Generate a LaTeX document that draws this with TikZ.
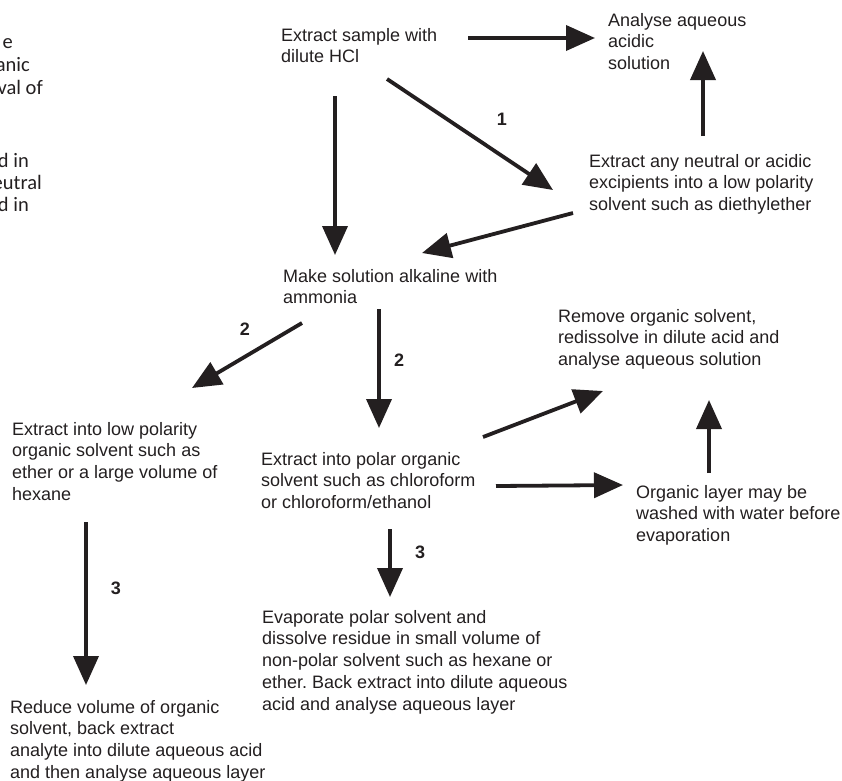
\documentclass[tikz,border=0pt]{standalone}
\usepackage{fontspec}
\setmainfont{Liberation Sans}
\newfontfamily\calfont{Carlito}
\usetikzlibrary{arrows.meta}
\frenchspacing
\definecolor{tinta}{RGB}{35,31,32}
\tikzset{
  lepes/.style={anchor=north west,inner sep=0pt,align=left,text=tinta,
                font=\fontsize{18}{21.7}\selectfont},
  csonk/.style={anchor=base east,inner sep=0pt,text=tinta,
                font=\calfont\fontsize{20.5}{24}\selectfont},
  fonyil/.style={draw=tinta,line width=3.8pt,-{Triangle[length=29pt,width=25pt]}},
  szam/.style={inner sep=0pt,text=tinta,font=\fontsize{18}{20}\selectfont\bfseries},
}

\begin{document}
\begin{tikzpicture}[x=1pt,y=-1pt]
  \useasboundingbox (0,0) rectangle (842,780);
  \clip (0,0) rectangle (842,780);

  % tail of the neighbouring paragraph, cut by the left edge
  \node[csonk] (k1) at (13,48) {e};
  \node[csonk] (k2) at (30,71) {anic};
  \node[csonk] (k3) at (43,94) {val of};
  \node[csonk] (k4) at (29,167) {d in};
  \node[csonk] (k5) at (42,189) {eutral};
  \node[csonk] (k6) at (29,211) {d in};

  % steps
  \node[lepes] (hcl) at (281,28) {Extract sample with\\dilute HCl};
  \node[lepes] (aqua) at (608,13) {Analyse aqueous\\acidic\\solution};
  \node[lepes] (excip) at (589,154) {Extract any neutral or acidic\\excipients into a low polarity\\solvent such as diethylether};
  \node[lepes] (alkali) at (283,269) {Make solution alkaline with\\ammonia};
  \node[lepes] (remove) at (558,309) {Remove organic solvent,\\redissolve in dilute acid and\\analyse aqueous solution};
  \node[lepes] (lowpol) at (12,422) {Extract into low polarity\\organic solvent such as\\ether or a large volume of\\hexane};
  \node[lepes] (polar) at (261,452) {Extract into polar organic\\solvent such as chloroform\\or chloroform/ethanol};
  \node[lepes] (washed) at (636,485) {Organic layer may be\\washed with water before\\evaporation};
  \node[lepes] (evap) at (262,610) {Evaporate polar solvent and\\dissolve residue in small volume of\\non-polar solvent such as hexane or\\ether. Back extract into dilute aqueous\\acid and analyse aqueous layer};
  \node[lepes] (reduce) at (10,700) {Reduce volume of organic\\solvent, back extract\\analyte into dilute aqueous acid\\and then analyse aqueous layer};

  % arrows
  \draw[fonyil] ([shift={(187,10)}]hcl.north west) -- ([shift={(-13,25)}]aqua.north west);
  \draw[fonyil] ([shift={(114,-18)}]excip.north west) -- ([shift={(95,38)}]aqua.north west);
  \draw[fonyil] ([shift={(106,51)}]hcl.north west) --
    node[szam,pos=0.59,shift={(17,-25)}] (n1) {1} ([shift={(-36,36)}]excip.north west);
  \draw[fonyil] ([shift={(54,68)}]hcl.north west) -- ([shift={(52,-14)}]alkali.north west);
  \draw[fonyil] ([shift={(-16,59)}]excip.north west) -- ([shift={(139,-16)}]alkali.north west);
  \draw[fonyil] ([shift={(19,54)}]alkali.north west) --
    node[szam,pos=0.41,shift={(-12,-20)}] (n2a) {2} ([shift={(180,-34)}]lowpol.north west);
  \draw[fonyil] ([shift={(96,40)}]alkali.north west) --
    node[szam,pos=0.43,shift={(20,0)}] (n2b) {2} ([shift={(118,-24)}]polar.north west);
  \draw[fonyil] ([shift={(222,-15)}]polar.north west) -- ([shift={(45,82)}]remove.north west);
  \draw[fonyil] ([shift={(235,34)}]polar.north west) -- ([shift={(-13,0)}]washed.north west);
  \draw[fonyil] ([shift={(73,-12)}]washed.north west) -- ([shift={(151,91)}]remove.north west);
  \draw[fonyil] ([shift={(74,100)}]lowpol.north west) --
    node[szam,pos=0.405,shift={(30,0)}] (n3a) {3} ([shift={(76,-15)}]reduce.north west);
  \draw[fonyil] ([shift={(129,77)}]polar.north west) --
    node[szam,pos=0.35,shift={(30,0)}] (n3b) {3} ([shift={(128,-13)}]evap.north west);
\end{tikzpicture}
\end{document}
